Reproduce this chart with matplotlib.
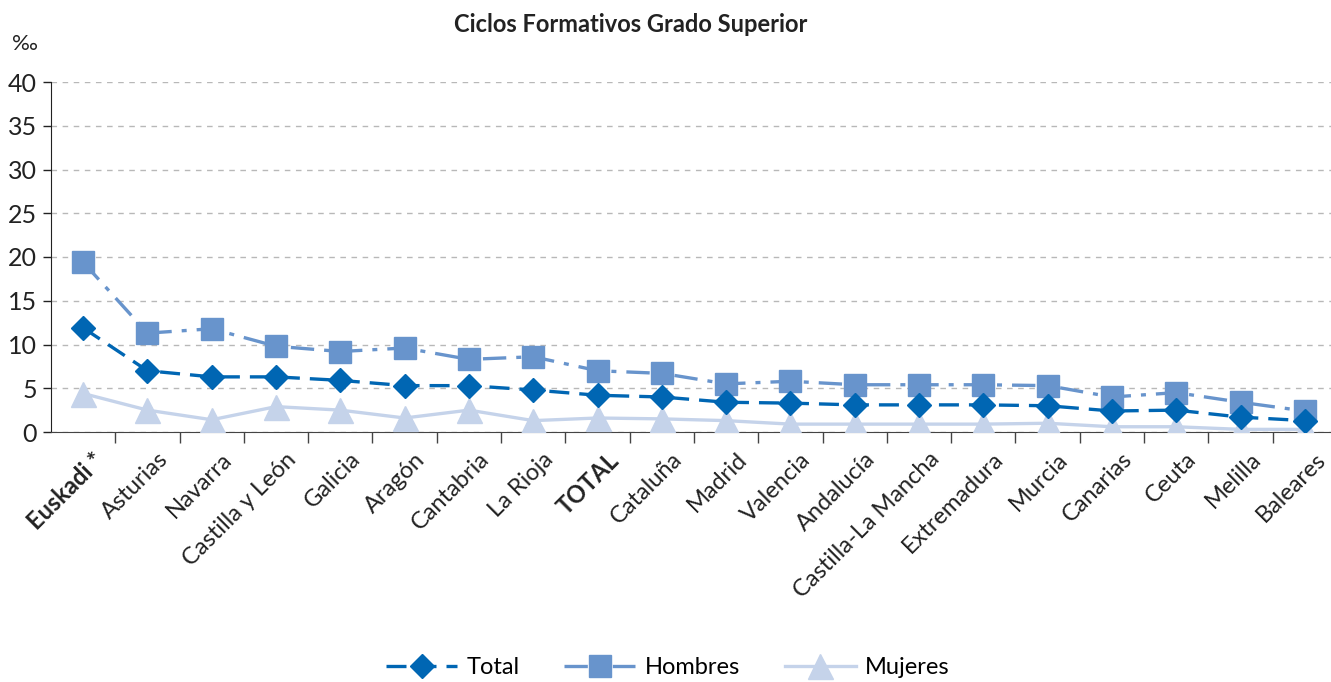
import numpy as np
import matplotlib.pyplot as plt

plt.rcParams['font.family'] = ['Lato', 'DejaVu Sans']

regiones = ['Euskadi *', 'Asturias', 'Navarra', 'Castilla y León', 'Galicia', 'Aragón',
            'Cantabria', 'La Rioja', 'TOTAL', 'Cataluña', 'Madrid', 'Valencia',
            'Andalucía', 'Castilla-La Mancha', 'Extremadura', 'Murcia', 'Canarias',
            'Ceuta', 'Melilla', 'Baleares']
total = [11.9, 7.0, 6.3, 6.3, 5.9, 5.3, 5.3, 4.8, 4.2, 4.0, 3.4, 3.3,
         3.1, 3.1, 3.1, 3.0, 2.4, 2.5, 1.7, 1.3]
hombres = [19.4, 11.3, 11.8, 9.8, 9.2, 9.6, 8.3, 8.6, 7.0, 6.7, 5.5, 5.8,
           5.4, 5.4, 5.4, 5.3, 4.0, 4.5, 3.4, 2.4]
mujeres = [4.4, 2.5, 1.4, 2.9, 2.5, 1.6, 2.5, 1.3, 1.6, 1.5, 1.3, 0.9,
           0.9, 0.9, 0.9, 1.0, 0.6, 0.6, 0.3, 0.3]
yticks = [0, 5, 10, 15, 20, 25, 30, 35, 40]

fig = plt.figure(figsize=(13.31, 6.82), dpi=100)
ax = fig.add_axes([51/1331, 1 - 432/682, 1286/1331, 350/682])

x = np.arange(len(regiones))
ax.plot(x, mujeres, color='#c5d3ea', lw=2.4, marker='^', ms=18, mec='#c5d3ea',
        label='Mujeres', zorder=3)
ax.plot(x, hombres, color='#6894cc', lw=2.4, ls=(0, (7, 3, 1.5, 3)), marker='s', ms=16,
        mec='#6894cc', label='Hombres', zorder=4)
ax.plot(x, total, color='#0066b3', lw=2.4, ls=(0, (6, 3)), marker='D', ms=12,
        mec='#0066b3', label='Total', zorder=5)

ax.set_xlim(-0.5, len(regiones) - 0.5)
ax.set_ylim(0, 40)
ax.set_yticks(yticks)
ax.tick_params(axis='y', labelsize=18, length=6, width=1, pad=4, colors='#222222')
ax.yaxis.grid(True, ls=(0, (4, 4)), color='#b8b8b8', lw=1)
ax.set_axisbelow(True)

ax.set_xticks(x + 0.15)
ax.set_xticklabels(regiones, rotation=45, ha='right', rotation_mode='anchor',
                   fontsize=17, color='#222222')
ax.set_xticks(np.arange(0.5, len(regiones) - 0.5), minor=True)
ax.tick_params(axis='x', which='major', length=0, pad=12)
ax.tick_params(axis='x', which='minor', length=8, width=1, color='#444444')
for lab in ax.get_xticklabels():
    if lab.get_text() in ('Euskadi *', 'TOTAL'):
        lab.set_fontweight('bold')

for s in ['top', 'right']:
    ax.spines[s].set_visible(False)
ax.spines['left'].set_color('#222222')
ax.spines['bottom'].set_color('#444444')

fig.text(631/1331, 1 - 25/682, 'Ciclos Formativos Grado Superior', ha='center', va='center',
         fontsize=17, fontweight='bold', color='#222222')
fig.text(12/1331, 1 - 44/682, '‰', ha='left', va='center', fontsize=16, color='#222222')

h, l = ax.get_legend_handles_labels()
order = [2, 1, 0]
fig.legend([h[i] for i in order], [l[i] for i in order], loc='center',
           bbox_to_anchor=(668/1331, 1 - 668/682), ncol=3, frameon=False,
           fontsize=17, handlelength=3.0, columnspacing=1.9, handletextpad=0.4)

fig.savefig('out.png', dpi=100)
